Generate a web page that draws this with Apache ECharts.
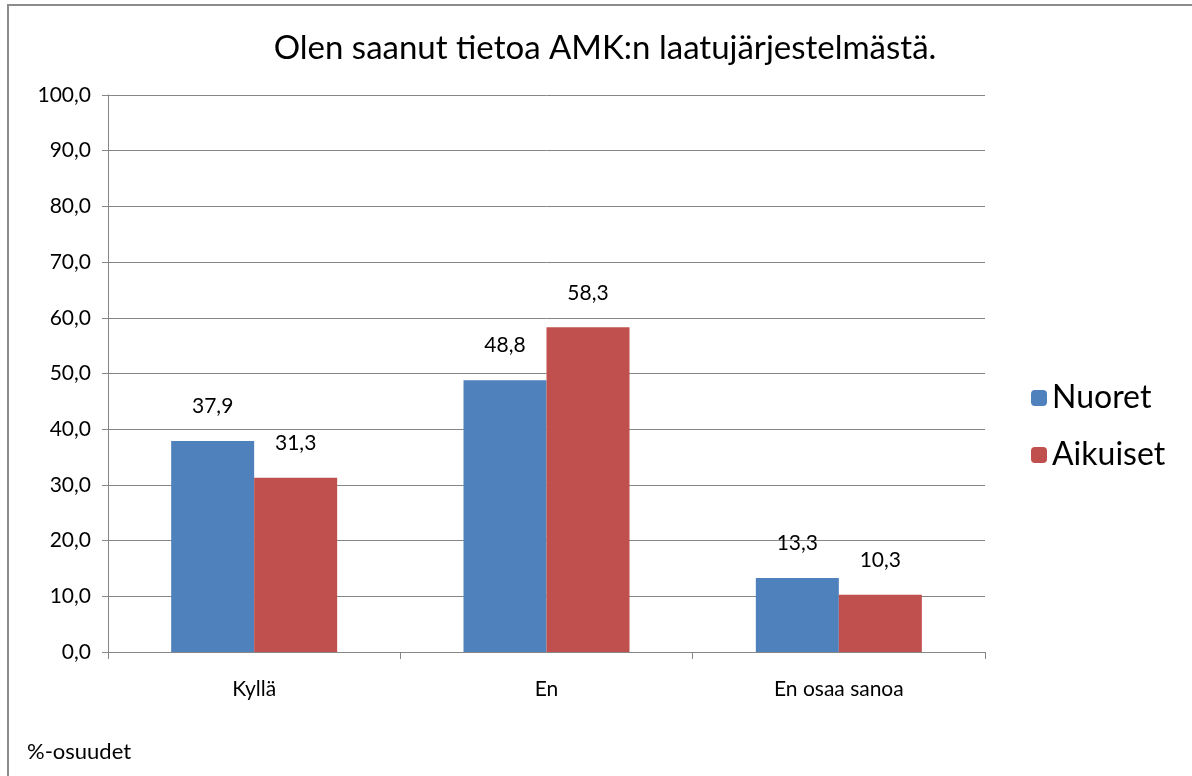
<!DOCTYPE html>
<html>
<head>
<meta charset="utf-8">
<script src="https://cdn.jsdelivr.net/npm/echarts@6/dist/echarts.min.js"></script>
<style>
html, body { margin: 0; padding: 0; background: #fff; }
#frame { position: absolute; left: 7px; top: 4px; width: 1190px; height: 780px; border: 2px solid #8c8c8c; box-sizing: border-box; }
#chart { width: 1192px; height: 776px; }
</style>
</head>
<body>
<div id="chart"></div>
<div id="frame"></div>
<script>
var categories = ['Kyllä', 'En', 'En osaa sanoa'];
var nuoret = [37.9, 48.8, 13.3];
var aikuiset = [31.3, 58.3, 10.3];
var seriesNames = ['Nuoret', 'Aikuiset'];

var fontFam = 'Lato, "Open Sans", sans-serif';

function fmt(v) {
    return v.toFixed(1).replace('.', ',');
}

var chart = echarts.init(document.getElementById('chart'));
chart.setOption({
    animation: false,
    textStyle: { fontFamily: fontFam },
    title: {
        text: 'Olen saanut tietoa AMK:n laatujärjestelmästä.',
        left: 600, top: 27, textAlign: 'center',
        textStyle: { fontSize: 33, fontWeight: 'normal', color: '#000', fontFamily: fontFam }
    },
    graphic: [{
        type: 'text', left: 27, top: 741,
        style: { text: '%-osuudet', fontSize: 22, fill: '#000', fontFamily: fontFam }
    }],
    legend: {
        orient: 'vertical', left: 1026, top: 377,
        itemWidth: 16, itemHeight: 16, itemGap: 25,
        textStyle: { fontSize: 32, color: '#000', fontFamily: fontFam },
        data: seriesNames
    },
    grid: { left: 108, right: 207, top: 95, bottom: 124 },
    xAxis: {
        type: 'category', data: categories,
        axisLine: { lineStyle: { color: '#868686' } },
        axisTick: { show: true, length: 7, lineStyle: { color: '#868686' } },
        axisLabel: { fontSize: 21, color: '#000', margin: 27 }
    },
    yAxis: {
        type: 'value', min: 0, max: 100, interval: 10,
        axisLine: { show: true, lineStyle: { color: '#868686' } },
        axisTick: { show: true, length: 6, lineStyle: { color: '#868686' } },
        splitLine: { lineStyle: { color: '#868686' } },
        axisLabel: { fontSize: 21, color: '#000', margin: 17, formatter: fmt }
    },
    series: [{
        name: seriesNames[0], type: 'bar', data: nuoret,
        barWidth: 83, barGap: '0%', barCategoryGap: '43%',
        itemStyle: { color: '#4F81BD' },
        label: { show: true, position: 'top', distance: 24, fontSize: 21, color: '#000', formatter: function (p) { return fmt(p.value); } }
    }, {
        name: seriesNames[1], type: 'bar', data: aikuiset,
        barWidth: 83,
        itemStyle: { color: '#C0504D' },
        label: { show: true, position: 'top', distance: 24, fontSize: 21, color: '#000', formatter: function (p) { return fmt(p.value); } }
    }]
});
</script>
</body>
</html>
